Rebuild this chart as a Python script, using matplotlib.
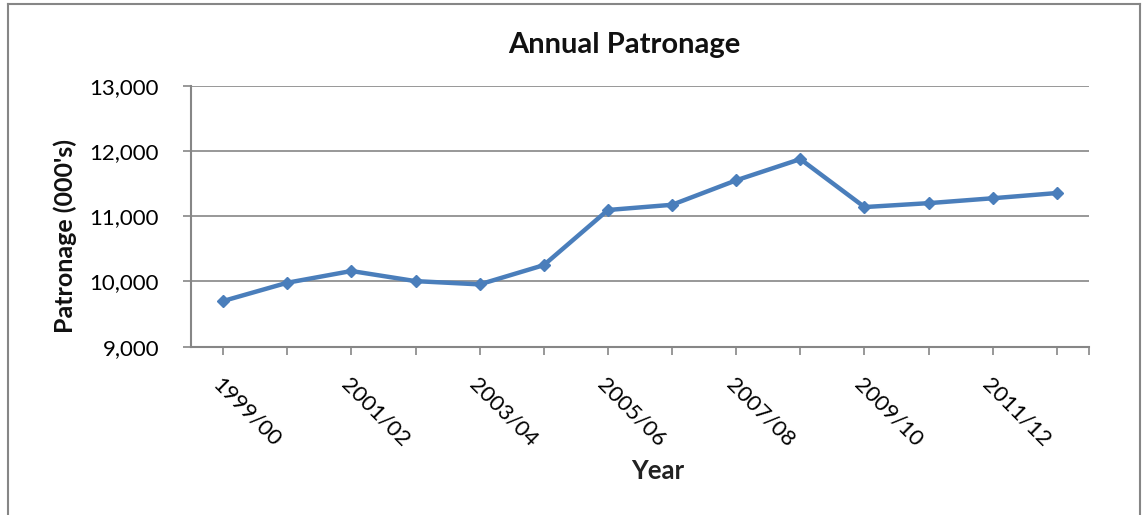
import matplotlib
matplotlib.use("Agg")
import matplotlib.pyplot as plt
from matplotlib.lines import Line2D
from matplotlib.ticker import FuncFormatter

# Annual patronage figures (thousands) by financial year
years = ["1999/00", "2000/01", "2001/02", "2002/03", "2003/04", "2004/05", "2005/06",
         "2006/07", "2007/08", "2008/09", "2009/10", "2010/11", "2011/12", "2012/13"]
patronage = [9700, 9980, 10160, 10005, 9955, 10250, 11095,
             11175, 11550, 11875, 11140, 11200, 11275, 11355]
y_ticks = [9000, 10000, 11000, 12000, 13000]

plt.rcParams["font.family"] = ["Lato", "DejaVu Sans"]

W, H = 1148, 515
fig = plt.figure(figsize=(W / 100, H / 100), dpi=100)
ax = fig.add_axes([191 / W, 1 - 346.7 / H, 898 / W, 261 / H])

axis_grey = "#868686"
blue = "#4A7EBB"

x = list(range(len(years)))
ax.plot(x, patronage, color=blue, lw=3.2, marker="D", markersize=6.5,
        markerfacecolor=blue, markeredgecolor=blue, solid_joinstyle="round", zorder=3)

ax.set_xlim(-0.5, len(years) - 0.5)
ax.set_ylim(y_ticks[0], y_ticks[-1])
ax.set_yticks(y_ticks)
ax.yaxis.set_major_formatter(FuncFormatter(lambda v, p: f"{int(v):,}"))
ax.grid(axis="y", color=axis_grey, lw=1.2, zorder=0)

# category ticks at every point, labels on alternate years
ax.set_xticks(x + [len(years) - 0.5])
ax.set_xticklabels([lab if i % 2 == 0 else "" for i, lab in enumerate(years)] + [""],
                   rotation=-45, ha="left", va="top", rotation_mode="anchor")

for side in ("top", "right"):
    ax.spines[side].set_visible(False)
for side in ("left", "bottom"):
    ax.spines[side].set_color(axis_grey)
    ax.spines[side].set_linewidth(1.5)
ax.tick_params(axis="both", colors=axis_grey, length=6, width=1.2, labelcolor="black")
ax.tick_params(axis="x", pad=14, labelsize=16)
ax.tick_params(axis="y", pad=17, labelsize=16)

fig.text(624 / W, 1 - 45 / H, "Annual Patronage", fontsize=21, fontweight="bold",
         ha="center", va="center", color="#111111")
fig.text(65 / W, 1 - 236 / H, "Patronage (000's)", fontsize=18, fontweight="bold",
         rotation=90, ha="center", va="center", color="#111111")
fig.text(658 / W, 1 - 471 / H, "Year", fontsize=18.5, fontweight="bold",
         ha="center", va="center", color="#222222")

# outer chart frame
for xs, ys in (([0.007, 0.007], [0.0, 0.992]), ([0.007, 0.993], [0.992, 0.992]),
               ([0.993, 0.993], [0.0, 0.992])):
    fig.add_artist(Line2D(xs, ys, transform=fig.transFigure, color=axis_grey, lw=1.5))

fig.savefig("out.png", dpi=100)
